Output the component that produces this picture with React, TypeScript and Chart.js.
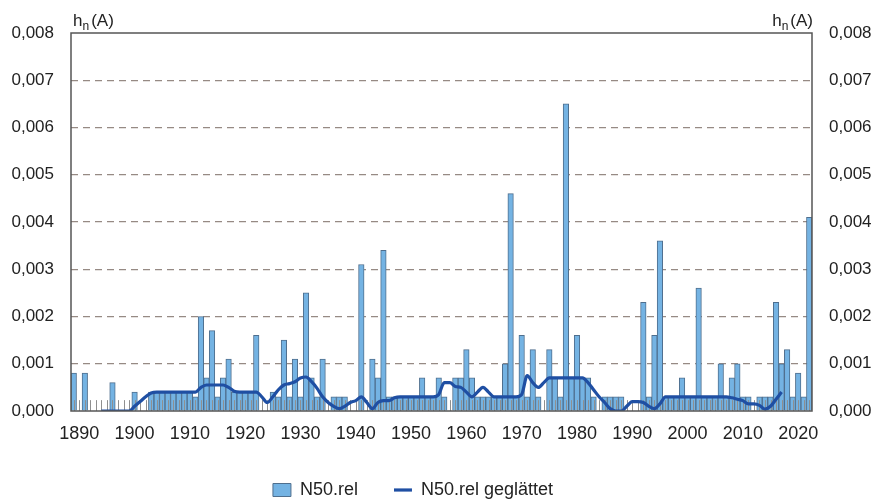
import React, { useEffect, useRef } from 'react';
import { Chart, registerables } from 'chart.js';

Chart.register(...registerables);

// ---------- data ----------
const FIRST_YEAR = 1889;
const LAST_YEAR = 2022;
const YEARS: string[] = [];
for (let y = FIRST_YEAR; y <= LAST_YEAR; y++) YEARS.push(String(y));

const DECADE_LABELS = ['1890', '1900', '1910', '1920', '1930', '1940', '1950', '1960', '1970', '1980', '1990', '2000', '2010', '2020'];

// N50.rel per year, 1889 .. 2022
const N50_REL: number[] = [
  0.0008, // 1889
  0, 0.0008, 0, 0, 0, 0, 0.0006, 0, 0, 0, // 1890-1899
  0.0004, 0, 0, 0.0004, 0.0004, 0.0004, 0.0004, 0.0004, 0.0004, 0.0004, // 1900-1909
  0.0004, 0.0003, 0.002, 0.0007, 0.0017, 0.0003, 0.0007, 0.0011, 0.0004, 0.0004, // 1910-1919
  0.0004, 0.0004, 0.0016, 0, 0, 0.0004, 0.0003, 0.0015, 0.0003, 0.0011, // 1920-1929
  0.0003, 0.0025, 0.0007, 0.0003, 0.0011, 0, 0.0003, 0.0003, 0.0003, 0, // 1930-1939
  0, 0.0031, 0, 0.0011, 0.0007, 0.0034, 0.0003, 0.0003, 0.0003, 0.0003, // 1940-1949
  0.0003, 0.0003, 0.0007, 0.0003, 0.0003, 0.0007, 0.0003, 0, 0.0007, 0.0007, // 1950-1959
  0.0013, 0.0007, 0.0003, 0.0003, 0.0003, 0.0003, 0.0003, 0.001, 0.0046, 0.0003, // 1960-1969
  0.0016, 0.0003, 0.0013, 0.0003, 0, 0.0013, 0.0007, 0.0003, 0.0065, 0.0007, // 1970-1979
  0.0016, 0.0007, 0.0007, 0.0003, 0, 0.0003, 0.0003, 0.0003, 0.0003, 0, // 1980-1989
  0, 0, 0.0023, 0.0003, 0.0016, 0.0036, 0.0003, 0.0003, 0.0003, 0.0007, // 1990-1999
  0.0003, 0.0003, 0.0026, 0.0003, 0.0003, 0.0003, 0.001, 0.0003, 0.0007, 0.001, // 2000-2009
  0.0003, 0.0003, 0, 0.0003, 0.0003, 0.0003, 0.0023, 0.001, 0.0013, 0.0003, // 2010-2019
  0.0008, 0.0003, 0.0041, // 2020-2022
];

// N50.rel geglättet per year, 1889 .. 2022 (null where not drawn)
const N50_SMOOTH: (number | null)[] = [
  null, // 1889
  null, null, null, null, 0, 0, 0, 0, 0, 0, // 1890-1899
  0.0001, 0.0002, 0.0003, 0.00038, 0.0004, 0.0004, 0.0004, 0.0004, 0.0004, 0.0004, // 1900-1909
  0.0004, 0.0004, 0.0005, 0.00055, 0.00055, 0.00055, 0.00055, 0.0005, 0.00042, 0.0004, // 1910-1919
  0.0004, 0.0004, 0.0004, 0.0003, 0.00018, 0.0003, 0.00045, 0.00055, 0.00058, 0.00062, // 1920-1929
  0.0007, 0.00072, 0.00062, 0.00048, 0.0003, 0.00018, 0.0001, 0.00005, 0.0001, 0.00018, // 1930-1939
  0.00022, 0.0003, 0.00018, 0.00005, 0.00018, 0.00022, 0.00022, 0.00028, 0.0003, 0.0003, // 1940-1949
  0.0003, 0.0003, 0.0003, 0.0003, 0.0003, 0.00035, 0.0006, 0.0006, 0.00052, 0.0005, // 1950-1959
  0.0004, 0.0003, 0.0004, 0.0005, 0.0004, 0.0003, 0.0003, 0.0003, 0.0003, 0.0003, // 1960-1969
  0.00035, 0.00075, 0.0006, 0.0005, 0.0006, 0.0007, 0.0007, 0.0007, 0.0007, 0.0007, // 1970-1979
  0.0007, 0.0007, 0.0006, 0.00045, 0.0003, 0.00018, 0.00005, 0, 0, 0.0001, // 1980-1989
  0.0002, 0.0002, 0.00018, 0.0001, 0.00005, 0.00015, 0.0003, 0.0003, 0.0003, 0.0003, // 1990-1999
  0.0003, 0.0003, 0.0003, 0.0003, 0.0003, 0.0003, 0.0003, 0.0003, 0.00028, 0.00025, // 2000-2009
  0.00022, 0.00015, 0.00015, 0.00012, 0.00004, 0.0001, 0.00025, 0.0004, null, null, // 2010-2019
  null, null, null, // 2020-2022
];

const Y_MIN = 0;
const Y_MAX = 0.008;
const Y_STEP = 0.001;

const SERIES_BAR = 'N50.rel';
const SERIES_LINE = 'N50.rel geglättet';

// ---------- style ----------
const FONT = '"Liberation Sans", Arial, Helvetica, sans-serif';
const TEXT = '#222222';
const BAR_FILL = '#74b3e3';
const BAR_EDGE = '#4f6f8e';
const LINE_COLOR = '#1f4fa3';
const GRID_COLOR = '#968a84';
const FRAME_COLOR = '#555555';
const YEAR_MARK_COLOR = '#8f8f8f';
const YEAR_MARK_TOP = 0.00023;

const fmt = (v: number) => Number(v).toFixed(3).replace('.', ',');

function drawUnit(ctx: CanvasRenderingContext2D, x: number, baseline: number, alignRight: boolean) {
  ctx.save();
  ctx.fillStyle = TEXT;
  ctx.textBaseline = 'alphabetic';
  ctx.textAlign = 'left';
  ctx.font = `17px ${FONT}`;
  const wh = ctx.measureText('h').width;
  const wa = ctx.measureText('(A)').width;
  ctx.font = `12px ${FONT}`;
  const wn = ctx.measureText('n').width;
  const gap = 2;
  const total = wh + wn + gap + wa;
  const sx = alignRight ? x - total : x;
  ctx.font = `17px ${FONT}`;
  ctx.fillText('h', sx, baseline);
  ctx.font = `12px ${FONT}`;
  ctx.fillText('n', sx + wh, baseline + 4);
  ctx.font = `17px ${FONT}`;
  ctx.fillText('(A)', sx + wh + wn + gap, baseline);
  ctx.restore();
}

const decorPlugin = {
  id: 'decor',
  afterLayout(chart: any) {
    const lg = chart.legend;
    if (lg) {
      lg.top += 6;
      lg.bottom += 6;
      lg.left -= 25;
      lg.right -= 25;
    }
  },
  afterDatasetDraw(chart: any, args: any) {
    if (args.index !== 0) return;
    const ctx: CanvasRenderingContext2D = chart.ctx;
    const xs = chart.scales.x;
    const ys = chart.scales.y;
    const y0 = ys.getPixelForValue(0);
    const y1 = ys.getPixelForValue(YEAR_MARK_TOP);
    ctx.save();
    ctx.beginPath();
    for (let i = 0; i < YEARS.length; i++) {
      const px = Math.round(xs.getPixelForValue(i)) + 0.5;
      ctx.moveTo(px, y0);
      ctx.lineTo(px, y1);
    }
    ctx.strokeStyle = YEAR_MARK_COLOR;
    ctx.lineWidth = 1;
    ctx.stroke();
    ctx.restore();
  },
  afterDraw(chart: any) {
    const ctx: CanvasRenderingContext2D = chart.ctx;
    const a = chart.chartArea;
    ctx.save();
    ctx.strokeStyle = FRAME_COLOR;
    ctx.lineWidth = 1.5;
    ctx.strokeRect(a.left, a.top, a.right - a.left, a.bottom - a.top);
    ctx.restore();
    drawUnit(ctx, a.left + 2, 26, false);
    drawUnit(ctx, a.right + 1, 26, true);
  },
};

export default function App() {
  const ref = useRef<HTMLCanvasElement>(null);

  useEffect(() => {
    Chart.defaults.font.family = FONT;
    Chart.defaults.color = TEXT;
    const yTicks = {
      stepSize: Y_STEP,
      padding: 17,
      color: TEXT,
      font: { size: 17 },
      callback: (v: any) => fmt(v),
    };
    const chart = new Chart(ref.current as HTMLCanvasElement, {
      type: 'bar',
      data: {
        labels: YEARS,
        datasets: [
          {
            type: 'bar',
            label: SERIES_BAR,
            data: N50_REL,
            backgroundColor: BAR_FILL,
            borderColor: BAR_EDGE,
            borderWidth: 1,
            barPercentage: 1,
            categoryPercentage: 1,
            pointStyle: 'rect',
            order: 1,
            yAxisID: 'y',
          } as any,
          {
            type: 'line',
            label: SERIES_LINE,
            data: N50_SMOOTH,
            borderColor: LINE_COLOR,
            backgroundColor: LINE_COLOR,
            borderWidth: 3.2,
            pointRadius: 0,
            pointHoverRadius: 0,
            pointStyle: 'line',
            cubicInterpolationMode: 'monotone',
            spanGaps: false,
            fill: false,
            order: 0,
            yAxisID: 'y',
          } as any,
        ],
      },
      options: {
        animation: false,
        responsive: false,
        devicePixelRatio: 1,
        layout: { padding: { top: 33, left: 0, right: 0, bottom: 0 } },
        plugins: {
          tooltip: { enabled: false },
          legend: {
            position: 'bottom',
            labels: {
              usePointStyle: true,
              pointStyleWidth: 18,
              boxHeight: 13,
              padding: 36,
              color: TEXT,
              font: { size: 18 },
              sort: (a: any, b: any) => a.datasetIndex - b.datasetIndex,
            },
          },
        },
        scales: {
          x: {
            type: 'category',
            offset: true,
            grid: { display: false, drawTicks: false },
            border: { display: false },
            ticks: {
              autoSkip: false,
              maxRotation: 0,
              minRotation: 0,
              padding: 12,
              color: TEXT,
              font: { size: 18 },
              callback: (_v: any, i: number) => (DECADE_LABELS.includes(YEARS[i]) ? YEARS[i] : ''),
            },
            afterFit: (s: any) => {
              const lh = s.chart.legend ? s.chart.legend.height : 64;
              s.height = Math.max(0, s.chart.height - lh - 411);
            },
          },
          y: {
            position: 'left',
            min: Y_MIN,
            max: Y_MAX,
            ticks: yTicks,
            grid: {
              drawTicks: false,
              lineWidth: 1.2,
              color: (c: any) =>
                c.tick && (c.tick.value <= Y_MIN + 1e-9 || c.tick.value >= Y_MAX - 1e-9) ? 'rgba(0,0,0,0)' : GRID_COLOR,
            },
            border: { display: false, dash: [7, 5] },
            afterFit: (s: any) => {
              s.width = 71;
            },
          },
          y2: {
            position: 'right',
            min: Y_MIN,
            max: Y_MAX,
            ticks: yTicks,
            grid: { display: false, drawTicks: false },
            border: { display: false },
            afterFit: (s: any) => {
              s.width = 64;
            },
          },
        },
      } as any,
      plugins: [decorPlugin],
    });
    return () => chart.destroy();
  }, []);

  return (
    <div style={{ position: 'absolute', left: 0, top: 0, width: 876, height: 503, background: '#ffffff' }}>
      <canvas ref={ref} width={876} height={503} style={{ display: 'block', width: 876, height: 503 }} />
    </div>
  );
}
